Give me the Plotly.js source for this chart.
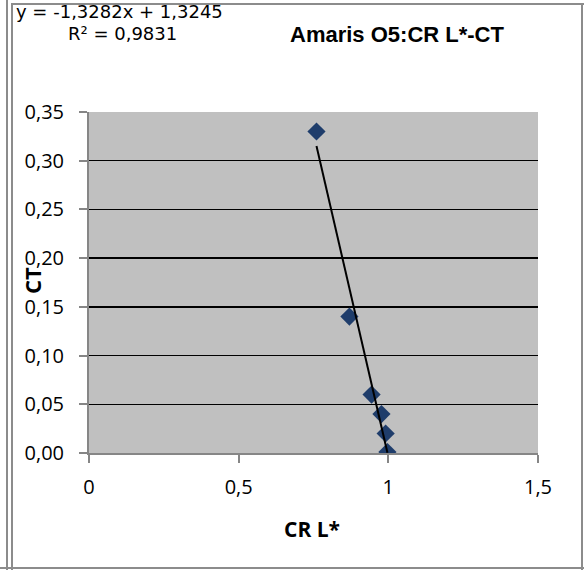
<!DOCTYPE html>
<html>
<head>
<meta charset="utf-8">
<script src="https://cdn.plot.ly/plotly-3.0.1.min.js"></script>
<style>
  html, body { margin: 0; padding: 0; background: #fff; }
  #wrap { position: relative; width: 584px; height: 570px; overflow: hidden; }
  #chart { position: absolute; left: 0; top: 0; width: 584px; height: 570px; }
  .bl { position: absolute; background: #8c8c8c; pointer-events: none; }
</style>
</head>
<body>
<div id="wrap">
  <div id="chart"></div>
  <div class="bl" style="left:6px; top:0; width:2px; height:570px;"></div>
  <div class="bl" style="left:11px; top:3px; width:2px; height:567px;"></div>
  <div class="bl" style="left:11px; top:3px; width:573px; height:2px;"></div>
  <div class="bl" style="left:581px; top:3px; width:2px; height:567px;"></div>
  <div class="bl" style="left:0; top:567px; width:584px; height:2px;"></div>
</div>
<script>
// Data
var crL = [0.76, 0.87, 0.944, 0.977, 0.991, 0.997];
var ct  = [0.33, 0.14, 0.06, 0.04, 0.02, 0.001];

// Trendline (as shown in the chart)
var slope = -1.3282;
var intercept = 1.3245;
var eqText = "y = -1,3282x + 1,3245";
var r2Text = "R² = 0,9831";

var chartTitle = "Amaris O5:CR L*-CT";
var xTitle = "CR L*";
var yTitle = "CT";

var xMin = Math.min.apply(null, crL);
var xMax = Math.max.apply(null, crL);
var trendX = [xMin, xMax];
var trendY = trendX.map(function (x) { return slope * x + intercept; });

var tickFont = { family: "Open Sans, sans-serif", size: 20, color: "#000" };

var data = [
  {
    x: crL, y: ct, type: "scatter", mode: "markers",
    marker: { symbol: "diamond", size: 14, color: "#1f3d6b", line: { width: 0 } },
    hoverinfo: "skip", showlegend: false
  },
  {
    x: trendX, y: trendY, type: "scatter", mode: "lines",
    line: { color: "#000", width: 2 },
    hoverinfo: "skip", showlegend: false
  }
];

var W = 584, H = 570, L = 89, R = 46, T = 112, B = 117;
var pw = W - L - R, ph = H - T - B;
function px2x(p) { return (p - L) / pw; }
function py2y(p) { return 1 - (p - T) / ph; }

var layout = {
  width: W, height: H,
  margin: { l: L, r: R, t: T, b: B, pad: 0 },
  paper_bgcolor: "rgba(0,0,0,0)",
  plot_bgcolor: "#c0c0c0",
  separators: ",.",
  showlegend: false,
  xaxis: {
    range: [0, 1.5], dtick: 0.5, tick0: 0,
    showgrid: false, zeroline: false,
    showline: true, linecolor: "#868686", linewidth: 2,
    ticks: "outside", ticklen: 8, tickcolor: "#868686", tickwidth: 2,
    tickfont: tickFont, ticklabelstandoff: 7,
    fixedrange: true
  },
  yaxis: {
    range: [0, 0.35], dtick: 0.05, tick0: 0, tickformat: ".2f",
    showgrid: true, gridcolor: "#000", gridwidth: 1.5, zeroline: false,
    showline: true, linecolor: "#868686", linewidth: 2,
    ticks: "outside", ticklen: 8, tickcolor: "#868686", tickwidth: 2,
    tickfont: tickFont, ticklabelstandoff: 11,
    fixedrange: true
  },
  annotations: [
    {
      text: "<b>" + chartTitle + "</b>", xref: "paper", yref: "paper",
      x: px2x(397), y: py2y(34), xanchor: "center", yanchor: "middle",
      showarrow: false, font: { family: "Liberation Sans, Arial, sans-serif", size: 22, color: "#000" }
    },
    {
      text: eqText, xref: "paper", yref: "paper",
      x: px2x(119), y: py2y(11.5), xanchor: "center", yanchor: "middle", borderpad: 0,
      showarrow: false, font: { family: "DejaVu Sans, sans-serif", size: 18, color: "#000" }
    },
    {
      text: r2Text, xref: "paper", yref: "paper",
      x: px2x(122), y: py2y(33.5), xanchor: "center", yanchor: "middle", borderpad: 0,
      showarrow: false, font: { family: "DejaVu Sans, sans-serif", size: 18, color: "#000" }
    },
    {
      text: "<b>" + yTitle + "</b>", xref: "paper", yref: "paper",
      x: px2x(32), y: py2y(281), xanchor: "center", yanchor: "middle", textangle: -90,
      showarrow: false, font: { family: "Open Sans, sans-serif", size: 22, color: "#000" }
    },
    {
      text: "<b>" + xTitle + "</b>", xref: "paper", yref: "paper",
      x: px2x(312), y: py2y(529), xanchor: "center", yanchor: "middle",
      showarrow: false, font: { family: "Open Sans, sans-serif", size: 21, color: "#000" }
    }
  ]
};

Plotly.newPlot("chart", data, layout, { staticPlot: true, displayModeBar: false });
</script>
</body>
</html>
